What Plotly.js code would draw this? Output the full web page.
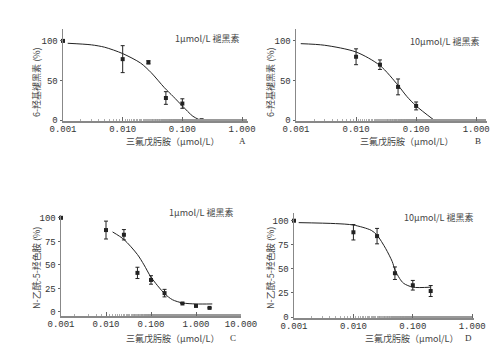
<!DOCTYPE html>
<html><head><meta charset="utf-8">
<script src="https://cdn.plot.ly/plotly-3.0.1.min.js"></script>
<style>html,body{margin:0;padding:0;background:#fff}#p{width:497px;height:356px}</style>
</head><body><div id="p"></div>
<script>
// Panel A: 1 μmol/L melatonin -> 6-hydroxymelatonin
const aX = [0.001, 0.01, 0.027, 0.053, 0.1, 0.21];
const aY = [100, 77, 73, 28, 21, 0];
const aErr = [0, 17, 2, 8, 6, 0];
const aCurveX = [0.0012, 0.003, 0.005, 0.01, 0.02, 0.03, 0.05, 0.07, 0.1, 0.15, 0.2];
const aCurveY = [97, 95, 92, 84, 72, 60, 41, 30, 18, 5, 0];
// Panel B: 10 μmol/L melatonin -> 6-hydroxymelatonin
const bX = [0.01, 0.025, 0.05, 0.1, 0.2];
const bY = [80, 70, 42, 18, -1];
const bErr = [10, 6, 10, 5, 0];
const bCurveX = [0.0012, 0.003, 0.01, 0.025, 0.05, 0.07, 0.1, 0.2];
const bCurveY = [96.5, 94.5, 86, 69, 44, 30, 18, 0];
// Panel C: 1 μmol/L melatonin -> N-acetylserotonin
const cX = [0.001, 0.01, 0.025, 0.05, 0.1, 0.2, 0.5, 1, 2];
const cY = [100, 87, 82, 41.5, 34, 20, 9, 6.4, 4.3];
const cErr = [0, 9.5, 5.5, 6, 4.5, 4, 0, 0, 0];
const cCurveX = [0.014, 0.025, 0.05, 0.07, 0.1, 0.2, 0.3, 0.5, 1, 2.3];
const cCurveY = [85, 77, 61, 50, 37, 19.5, 13, 9.6, 8.5, 8.5];
// Panel D: 10 μmol/L melatonin -> N-acetylserotonin
const dX = [0.001, 0.01, 0.025, 0.05, 0.1, 0.2];
const dY = [100, 88, 84, 45.5, 33, 27];
const dErr = [0, 8, 8, 6.5, 5, 5.7];
const dCurveX = [0.0012, 0.005, 0.01, 0.02, 0.025, 0.035, 0.045, 0.05, 0.06, 0.07, 0.1, 0.2];
const dCurveY = [98, 97, 95.5, 90, 85, 71, 57.6, 49, 40, 35, 31, 31];

const xTickVals = [0.001, 0.01, 0.1, 1, 10];
const xTickText = ['0.001', '0.010', '0.100', '1.000', '10.000'];
const yTicksAB = [0, 50, 100];
const yTicksCD = [0, 25, 50, 75, 100];
const xTitle = '三氟戊肟胺（μmol/L）';
const yTitleAB = '6-羟基褪黑素 (%)';
const yTitleCD = 'N-乙酰-5-羟色胺 (%)';
const panelNotes = ['1μmol/L 褪黑素', '10μmol/L 褪黑素', '1μmol/L 褪黑素', '10μmol/L 褪黑素'];
const panelLetters = ['A', 'B', 'C', 'D'];

const ink = '#222';
const axisCol = '#888';
const fontTick = {family: 'Liberation Mono, DejaVu Sans Mono, monospace', size: 9, color: '#333'};
const fontLetter = {family: 'Liberation Serif, serif', size: 9, color: '#333'};
const fontCJK = {family: 'Noto Sans CJK SC, sans-serif', size: 9, color: '#444'};

function pts(x, y, e, xa, ya) {
  return {x: x, y: y, xaxis: xa, yaxis: ya, type: 'scatter', mode: 'markers',
    marker: {symbol: 'square', size: 4, color: ink},
    error_y: {type: 'data', array: e, visible: true, color: ink, thickness: 1, width: 2},
    showlegend: false, cliponaxis: false};
}
function curve(x, y, xa, ya) {
  return {x: x, y: y, xaxis: xa, yaxis: ya, type: 'scatter', mode: 'lines',
    line: {color: ink, width: 1, shape: 'spline', smoothing: 0.8}, showlegend: false};
}
const data = [
  curve(aCurveX, aCurveY, 'x', 'y'), pts(aX, aY, aErr, 'x', 'y'),
  curve(bCurveX, bCurveY, 'x2', 'y2'), pts(bX, bY, bErr, 'x2', 'y2'),
  curve(cCurveX, cCurveY, 'x3', 'y3'), pts(cX, cY, cErr, 'x3', 'y3'),
  curve(dCurveX, dCurveY, 'x4', 'y4'), pts(dX, dY, dErr, 'x4', 'y4')
];

function xa(dom, rng, anchor) {
  return {type: 'log', domain: dom, range: rng, anchor: anchor, showgrid: false, zeroline: false,
    showline: true, linecolor: axisCol, linewidth: 1.5, ticks: 'inside', ticklen: 4, tickcolor: '#666',
    tickvals: xTickVals, ticktext: xTickText, tickfont: fontTick, ticklabelstandoff: -1,
    minor: {ticks: 'inside', ticklen: 2, tickcolor: '#999', tickwidth: 0.8, showgrid: false}};
}
function ya(dom, rng, anchor, tv) {
  return {domain: dom, range: rng, anchor: anchor, showgrid: false, zeroline: false,
    showline: true, linecolor: axisCol, linewidth: 1.5, ticks: 'outside', ticklen: 2, tickcolor: '#666',
    tickvals: tv, tickfont: fontTick};
}
const W = 497, H = 356;
const fx = p => p / W, fy = p => 1 - p / H;

function ann(x, y, text, font, extra) {
  return Object.assign({xref: 'paper', yref: 'paper', x: fx(x), y: fy(y), text: text, showarrow: false,
    font: font, xanchor: 'center', yanchor: 'middle'}, extra || {});
}
const annotations = [
  ann(207, 38, panelNotes[0], fontCJK),
  ann(444, 42, panelNotes[1], fontCJK),
  ann(201, 212, panelNotes[2], fontCJK),
  ann(438, 217, panelNotes[3], fontCJK),
  ann(172, 141, xTitle, fontCJK),
  ann(406, 141, xTitle, fontCJK),
  ann(172, 338, xTitle, fontCJK),
  ann(411, 338, xTitle, fontCJK),
  ann(242, 141, panelLetters[0], fontLetter),
  ann(478, 141, panelLetters[1], fontLetter),
  ann(233, 338, panelLetters[2], fontLetter),
  ann(468, 338, panelLetters[3], fontLetter),
  ann(36, 82, yTitleAB, fontCJK, {textangle: -90}),
  ann(270, 82, yTitleAB, fontCJK, {textangle: -90}),
  ann(36, 268, yTitleCD, fontCJK, {textangle: -90}),
  ann(270, 268, yTitleCD, fontCJK, {textangle: -90})
];

const layout = {
  width: W, height: H, margin: {l: 0, r: 0, t: 0, b: 0},
  paper_bgcolor: '#fff', plot_bgcolor: '#fff', showlegend: false,
  xaxis: xa([fx(63), fx(248)], [-3, 0.1], 'y'),
  yaxis: ya([fy(121), fy(29)], [-1, 115], 'x', yTicksAB),
  xaxis2: xa([fx(296), fx(487)], [-3, 0.18], 'y2'),
  yaxis2: ya([fy(121), fy(29)], [-1, 115], 'x2', yTicksAB),
  xaxis3: xa([fx(61), fx(241)], [-3, 1], 'y3'),
  yaxis3: ya([fy(316), fy(215)], [-4.3, 103], 'x3', yTicksCD),
  xaxis4: xa([fx(294), fx(474)], [-3, 0.03], 'y4'),
  yaxis4: ya([fy(318), fy(213)], [-1, 108], 'x4', yTicksCD),
  annotations: annotations
};
Plotly.newPlot('p', data, layout, {staticPlot: true, displayModeBar: false});
</script></body></html>
